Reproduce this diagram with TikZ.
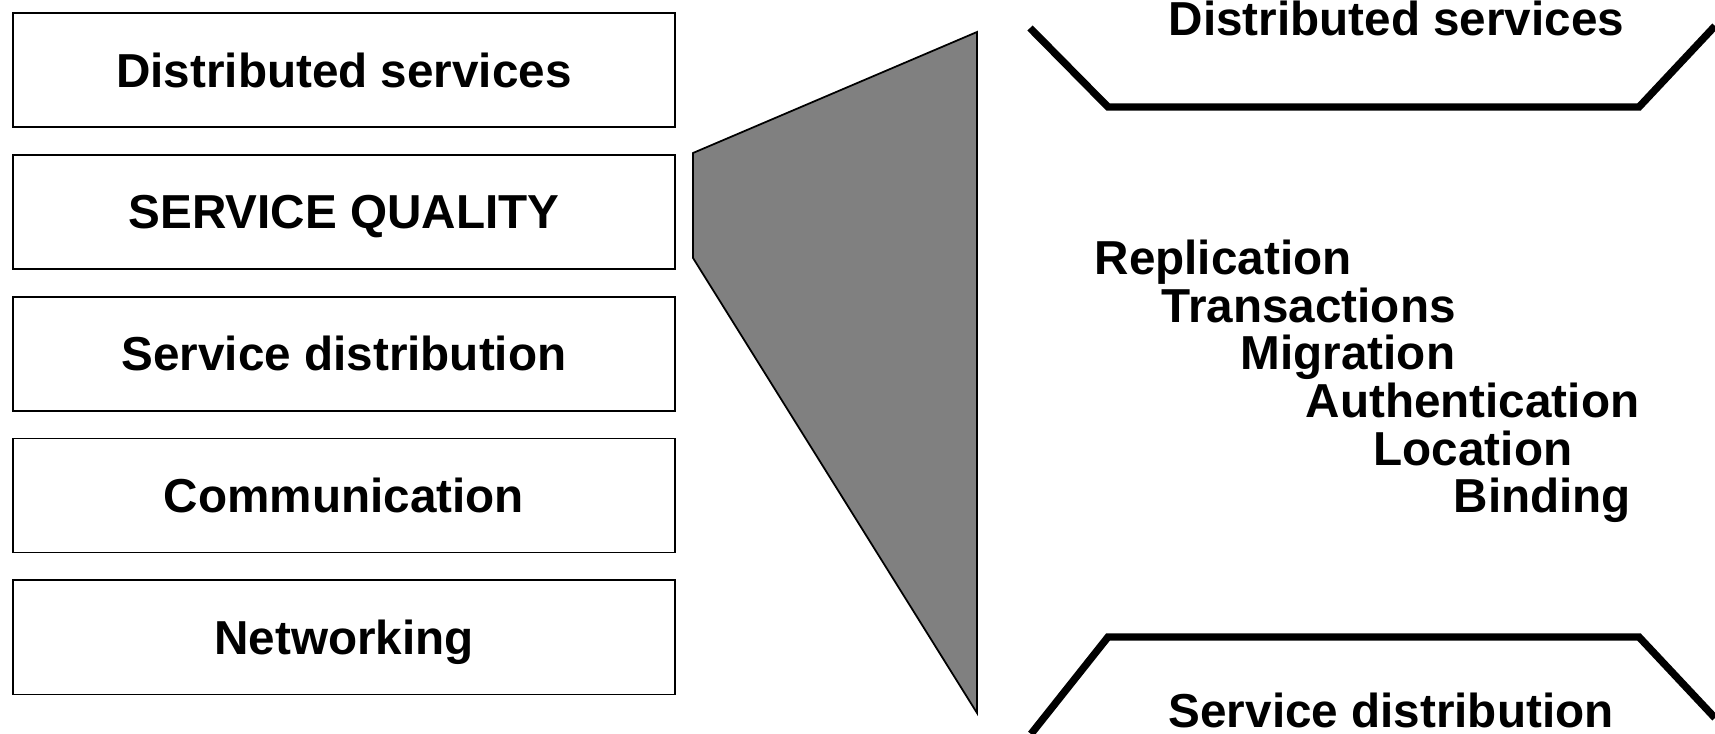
\documentclass[tikz,border=0pt]{standalone}
\usepackage{fontspec}
\setmainfont{Liberation Sans}
\usetikzlibrary{positioning}
\tikzset
{
    layerbox/.style = {rectangle, draw=black, line width=0.5pt, align=center, minimum width=6.62cm, minimum height=1.14cm, inner sep=0pt, text depth=0pt, font=\bfseries\fontsize{13.55}{16}\selectfont},
    itemtext/.style = {anchor=base west, inner sep=0pt, font=\bfseries\fontsize{13.55}{16}\selectfont},
    wedge/.style    = {fill=black!50, draw=black, line width=0.5pt, line join=miter},
    rim/.style      = {draw=black, line width=2.1pt, line join=miter, line cap=butt}
}
\begin{document}
\begin{tikzpicture}
	[x=0.01cm, y=-0.01cm]
	\useasboundingbox (0,0) rectangle (1715,734);
	% layer stack
	\node[layerbox] (dist) at (344,70) {Distributed services};
	\node[layerbox, below=0.26cm of dist] (qual) {SERVICE QUALITY};
	\node[layerbox, below=0.26cm of qual] (sdist) {Service distribution};
	\node[layerbox, below=0.26cm of sdist] (comm) {Communication};
	\node[layerbox, below=0.26cm of comm] (net) {Networking};
	% zoom wedge
	\draw[wedge] (693,153) -- (977,32) -- (977,713) -- (693,258) -- cycle;
	% upper and lower rims
	\draw[rim] (1030,28) -- (1108,107) -- (1639,107) -- (1715,26);
	\draw[rim] (1031,734) -- (1108,637) -- (1639,637) -- (1715,718);
	\node[itemtext] (top) at (1168,36) {Distributed services};
	\node[itemtext] (bottom) at (1168,728) {Service distribution};
	% quality items
	\node[itemtext] (repl) at (1094,275) {Replication};
	\node[itemtext] (trans) at (1161,323) {Transactions};
	\node[itemtext] (migr) at (1240,370) {Migration};
	\node[itemtext] (auth) at (1305,418) {Authentication};
	\node[itemtext] (loc) at (1373,466) {Location};
	\node[itemtext] (bind) at (1453,513) {Binding};
\end{tikzpicture}
\end{document}
